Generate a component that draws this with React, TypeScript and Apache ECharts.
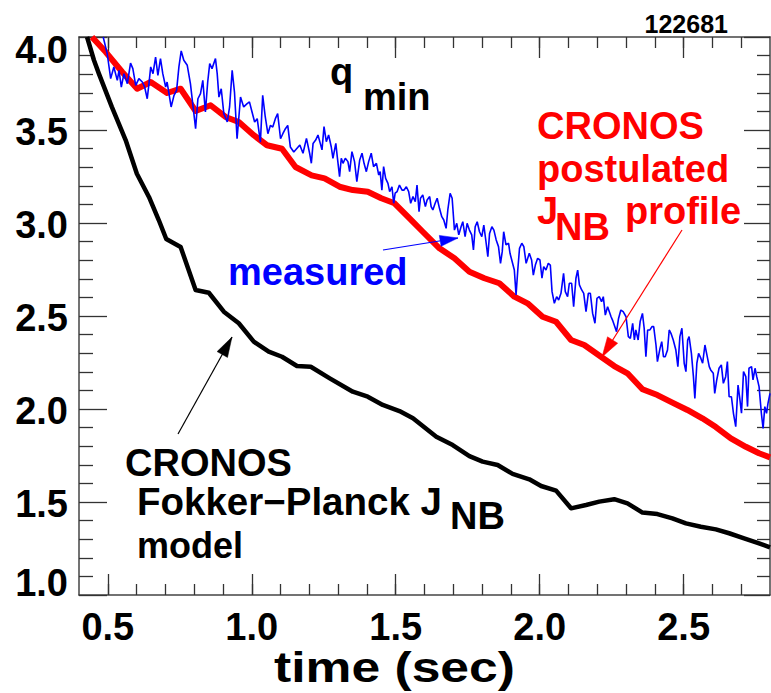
import React, { useEffect, useRef } from "react";
import * as echarts from "echarts";

const FONT = '"Liberation Sans", Arial, Helvetica, sans-serif';

// Axis ticks / labels
const xMajorTicks = [0.5, 1.0, 1.5, 2.0, 2.5];
const xMinorTicks = [
  0.5, 0.6, 0.7, 0.8, 0.9, 1.0, 1.1, 1.2, 1.3, 1.4, 1.5, 1.6, 1.7, 1.8, 1.9,
  2.0, 2.1, 2.2, 2.3, 2.4, 2.5, 2.6, 2.7,
];
const xRange = [0.4, 2.8];
const yRange = [1.0, 4.0];

// CRONOS Fokker-Planck J_NB model (black)
const fokkerPlanck: [number, number][] = [
  [0.428, 4.0], [0.452, 3.875], [0.469, 3.803], [0.514, 3.624], [0.562, 3.446],
  [0.601, 3.265], [0.643, 3.14], [0.677, 3.016], [0.703, 2.914], [0.753, 2.871],
  [0.805, 2.64], [0.851, 2.625], [0.903, 2.523], [0.955, 2.461], [1.007, 2.362],
  [1.059, 2.308], [1.105, 2.281], [1.157, 2.231], [1.205, 2.227], [1.271, 2.165],
  [1.351, 2.093], [1.403, 2.066], [1.455, 2.022], [1.513, 1.989], [1.56, 1.95],
  [1.641, 1.851], [1.698, 1.806], [1.756, 1.747], [1.802, 1.717], [1.854, 1.699],
  [1.906, 1.651], [1.964, 1.622], [2.005, 1.586], [2.057, 1.561], [2.109, 1.466],
  [2.161, 1.484], [2.207, 1.502], [2.259, 1.515], [2.305, 1.493], [2.357, 1.443],
  [2.409, 1.435], [2.461, 1.412], [2.508, 1.385], [2.56, 1.367], [2.612, 1.353],
  [2.658, 1.332], [2.71, 1.305], [2.762, 1.278], [2.8, 1.256],
];

// CRONOS postulated J_NB profile (red)
const postulated: [number, number][] = [
  [0.445, 4.0], [0.493, 3.919], [0.55, 3.812], [0.602, 3.722], [0.649, 3.758],
  [0.706, 3.699], [0.753, 3.722], [0.805, 3.602], [0.857, 3.633], [0.909, 3.57],
  [0.955, 3.543], [1.007, 3.472], [1.053, 3.418], [1.105, 3.399], [1.152, 3.301],
  [1.208, 3.256], [1.253, 3.24], [1.305, 3.195], [1.351, 3.177], [1.403, 3.168],
  [1.45, 3.133], [1.496, 3.106], [1.542, 3.034], [1.594, 2.953], [1.652, 2.864],
  [1.704, 2.81], [1.756, 2.738], [1.808, 2.703], [1.86, 2.676], [1.912, 2.604],
  [1.958, 2.568], [2.01, 2.496], [2.057, 2.469], [2.109, 2.371], [2.155, 2.344],
  [2.213, 2.281], [2.259, 2.231], [2.305, 2.192], [2.357, 2.106], [2.409, 2.075],
  [2.461, 2.034], [2.513, 1.995], [2.565, 1.95], [2.612, 1.903], [2.664, 1.842],
  [2.716, 1.797], [2.762, 1.762], [2.8, 1.74],
];

// measured q_min (blue)
const measured: [number, number][] = [
  [0.484, 4.0], [0.498, 3.91], [0.51, 3.776], [0.521, 3.839], [0.533, 3.767],
  [0.539, 3.821], [0.547, 3.731], [0.556, 3.803], [0.568, 3.749], [0.579, 3.86],
  [0.587, 3.83], [0.597, 3.74], [0.608, 3.776], [0.62, 3.758], [0.628, 3.731],
  [0.637, 3.668], [0.643, 3.749], [0.649, 3.839], [0.657, 3.803], [0.666, 3.892],
  [0.674, 3.794], [0.683, 3.884], [0.691, 3.803], [0.701, 3.731], [0.706, 3.758],
  [0.72, 3.624], [0.73, 3.686], [0.739, 3.713], [0.747, 3.839], [0.755, 3.925],
  [0.764, 3.875], [0.776, 3.848], [0.787, 3.749], [0.795, 3.642], [0.805, 3.507],
  [0.813, 3.668], [0.822, 3.695], [0.83, 3.767], [0.839, 3.597], [0.847, 3.758],
  [0.854, 3.857], [0.862, 3.83], [0.874, 3.884], [0.88, 3.803], [0.886, 3.677],
  [0.894, 3.722], [0.903, 3.588], [0.915, 3.543], [0.923, 3.624], [0.932, 3.821],
  [0.94, 3.704], [0.949, 3.453], [0.961, 3.677], [0.972, 3.624], [0.984, 3.642],
  [0.992, 3.651], [1.001, 3.597], [1.01, 3.543], [1.019, 3.561], [1.03, 3.435],
  [1.038, 3.686], [1.047, 3.57], [1.056, 3.48], [1.065, 3.525], [1.073, 3.516],
  [1.082, 3.561], [1.09, 3.588], [1.1, 3.453], [1.108, 3.48], [1.117, 3.507],
  [1.125, 3.525], [1.134, 3.409], [1.146, 3.382], [1.167, 3.419], [1.178, 3.375],
  [1.19, 3.455], [1.201, 3.375], [1.207, 3.321], [1.213, 3.428], [1.222, 3.446],
  [1.23, 3.473], [1.238, 3.428], [1.244, 3.393], [1.251, 3.518], [1.259, 3.437],
  [1.267, 3.473], [1.276, 3.41], [1.282, 3.348], [1.292, 3.428], [1.297, 3.357],
  [1.305, 3.249], [1.311, 3.348], [1.317, 3.321], [1.325, 3.348], [1.334, 3.33],
  [1.34, 3.276], [1.348, 3.384], [1.357, 3.33], [1.365, 3.222], [1.375, 3.339],
  [1.383, 3.375], [1.39, 3.321], [1.398, 3.276], [1.406, 3.33], [1.415, 3.375],
  [1.423, 3.303], [1.433, 3.321], [1.441, 3.258], [1.446, 3.276], [1.452, 3.177],
  [1.458, 3.303], [1.465, 3.24], [1.473, 3.213], [1.479, 3.169], [1.487, 3.195],
  [1.493, 3.106], [1.498, 3.16], [1.505, 3.169], [1.513, 3.204], [1.522, 3.177],
  [1.529, 3.177], [1.537, 3.195], [1.545, 3.169], [1.552, 3.106], [1.56, 3.142],
  [1.568, 3.115], [1.574, 3.204], [1.581, 3.061], [1.586, 3.133], [1.594, 3.151],
  [1.603, 3.088], [1.609, 3.124], [1.618, 3.142], [1.623, 3.088], [1.629, 3.07],
  [1.637, 3.106], [1.644, 3.133], [1.652, 3.079], [1.66, 3.034], [1.667, 3.016],
  [1.675, 2.971], [1.681, 3.07], [1.689, 3.16], [1.696, 3.133], [1.704, 2.962],
  [1.712, 2.998], [1.719, 2.936], [1.727, 2.98], [1.733, 3.007], [1.741, 2.927],
  [1.748, 2.998], [1.756, 2.962], [1.764, 2.936], [1.77, 2.855], [1.776, 2.98],
  [1.783, 3.007], [1.791, 2.953], [1.799, 2.927], [1.806, 2.989], [1.812, 2.918],
  [1.82, 2.819], [1.826, 2.944], [1.834, 2.98], [1.841, 2.962], [1.849, 2.909],
  [1.857, 2.873], [1.864, 2.783], [1.87, 2.846], [1.875, 2.953], [1.883, 2.882],
  [1.892, 2.891], [1.897, 2.837], [1.903, 2.801], [1.912, 2.747], [1.918, 2.613],
  [1.924, 2.747], [1.93, 2.864], [1.938, 2.891], [1.945, 2.873], [1.953, 2.783],
  [1.964, 2.837], [1.972, 2.801], [1.978, 2.72], [1.985, 2.774], [1.993, 2.81],
  [2.001, 2.801], [2.008, 2.703], [2.014, 2.765], [2.022, 2.747], [2.03, 2.783],
  [2.037, 2.774], [2.043, 2.631], [2.051, 2.568], [2.059, 2.604], [2.066, 2.586],
  [2.074, 2.622], [2.083, 2.729], [2.089, 2.631], [2.097, 2.604], [2.103, 2.676],
  [2.111, 2.676], [2.118, 2.55], [2.126, 2.703], [2.132, 2.747], [2.138, 2.667],
  [2.146, 2.64], [2.153, 2.622], [2.161, 2.523], [2.169, 2.622], [2.176, 2.622],
  [2.184, 2.514], [2.192, 2.461], [2.199, 2.595], [2.207, 2.604], [2.215, 2.577],
  [2.221, 2.604], [2.228, 2.505], [2.236, 2.55], [2.242, 2.523], [2.248, 2.496],
  [2.253, 2.478], [2.259, 2.452], [2.267, 2.416], [2.274, 2.487], [2.282, 2.532],
  [2.29, 2.523], [2.3, 2.496], [2.308, 2.389], [2.315, 2.38], [2.323, 2.461],
  [2.329, 2.371], [2.334, 2.425], [2.342, 2.371], [2.349, 2.47], [2.357, 2.514],
  [2.363, 2.434], [2.369, 2.281], [2.375, 2.425], [2.383, 2.425], [2.39, 2.443],
  [2.396, 2.443], [2.404, 2.344], [2.409, 2.255], [2.418, 2.326], [2.424, 2.362],
  [2.43, 2.281], [2.436, 2.281], [2.444, 2.317], [2.45, 2.425], [2.456, 2.407],
  [2.464, 2.371], [2.473, 2.317], [2.48, 2.228], [2.487, 2.389], [2.494, 2.434],
  [2.502, 2.246], [2.508, 2.201], [2.514, 2.371], [2.519, 2.389], [2.527, 2.299],
  [2.534, 2.174], [2.539, 2.057], [2.546, 2.246], [2.552, 2.299], [2.56, 2.272],
  [2.566, 2.246], [2.574, 2.344], [2.581, 2.29], [2.589, 2.228], [2.594, 2.21],
  [2.603, 2.192], [2.608, 2.084], [2.615, 2.156], [2.623, 2.219], [2.631, 2.237],
  [2.638, 2.138], [2.646, 2.174], [2.652, 2.255], [2.658, 2.066], [2.666, 2.066],
  [2.673, 1.977], [2.681, 1.905], [2.689, 2.129], [2.695, 2.057], [2.701, 1.977],
  [2.708, 2.201], [2.716, 2.174], [2.722, 2.013], [2.727, 2.219], [2.736, 2.228],
  [2.741, 2.156], [2.748, 2.219], [2.754, 2.174], [2.762, 2.12], [2.77, 1.977],
  [2.776, 1.896], [2.782, 2.013], [2.788, 1.977], [2.793, 2.03], [2.8, 2.084],
];

const AXIS_COLOR = "#444";
const TICK_COLOR = "#333";

function txt(text: string, x: number, y: number, fill: string, size = 38, align = "left") {
  return {
    type: "text",
    z: 20,
    style: {
      text,
      x,
      y,
      fill,
      fontFamily: FONT,
      fontWeight: "bold",
      fontSize: size,
      lineHeight: Math.round(size * 0.88),
      align,
      verticalAlign: "middle",
    },
  };
}

function arrow(x1: number, y1: number, x2: number, y2: number, bx1: number, by1: number, bx2: number, by2: number, color: string) {
  return [
    {
      type: "line",
      z: 20,
      shape: { x1, y1, x2, y2 },
      style: { stroke: color, lineWidth: 1.2 },
    },
    {
      type: "polygon",
      z: 20,
      shape: { points: [[x2, y2], [bx1, by1], [bx2, by2]] },
      style: { fill: color, stroke: color, lineWidth: 0.5 },
    },
  ];
}

export default function App() {
  const ref = useRef<HTMLDivElement>(null);
  useEffect(() => {
    if (!ref.current) return;
    const chart = echarts.init(ref.current, undefined, { renderer: "svg" });
    const yLabelFmt = (v: number) => {
      if (Math.abs(v - 4) < 1e-6) return "{top|4.0}";
      if (Math.abs(v - 1) < 1e-6) return "{bot|1.0}";
      return "{n|" + v.toFixed(1) + "}";
    };
    const labelBase = { fontFamily: FONT, fontWeight: "bold", fontSize: 38, color: "#000" };
    const xCommon = {
      type: "value",
      min: xRange[0],
      max: xRange[1],
      gridIndex: 0,
      splitLine: { show: false },
    };
    const option: any = {
      animation: false,
      backgroundColor: "#fff",
      grid: { left: 79, top: 37, right: 1, bottom: 98, containLabel: false, outerBoundsMode: "none" },
      xAxis: [
        {
          ...xCommon,
          position: "bottom",
          axisLine: { show: true, onZero: false, lineStyle: { color: AXIS_COLOR, width: 1.5 } },
          axisTick: { show: true, inside: true, length: 21, customValues: xMajorTicks, lineStyle: { color: TICK_COLOR, width: 1.3 } },
          axisLabel: {
            show: true,
            customValues: xMajorTicks,
            formatter: (v: number) => v.toFixed(1),
            margin: 13,
            ...labelBase,
          },
        },
        {
          ...xCommon,
          position: "bottom",
          axisLine: { show: false, onZero: false },
          axisTick: { show: true, inside: true, length: 11, customValues: xMinorTicks, lineStyle: { color: TICK_COLOR, width: 1.3 } },
          axisLabel: { show: false },
        },
        {
          ...xCommon,
          position: "top",
          axisLine: { show: true, onZero: false, lineStyle: { color: AXIS_COLOR, width: 1.5 } },
          axisTick: { show: true, inside: true, length: 21, customValues: xMajorTicks, lineStyle: { color: TICK_COLOR, width: 1.3 } },
          axisLabel: { show: false },
        },
        {
          ...xCommon,
          position: "top",
          axisLine: { show: false, onZero: false },
          axisTick: { show: true, inside: true, length: 11, customValues: xMinorTicks, lineStyle: { color: TICK_COLOR, width: 1.3 } },
          axisLabel: { show: false },
        },
      ],
      yAxis: [
        {
          type: "value",
          position: "left",
          min: yRange[0],
          max: yRange[1],
          interval: 0.5,
          splitLine: { show: false },
          axisLine: { show: true, onZero: false, lineStyle: { color: AXIS_COLOR, width: 1.5 } },
          axisTick: { show: true, inside: true, length: 28, lineStyle: { color: TICK_COLOR, width: 1.3 } },
          minorTick: { show: true, splitNumber: 5, length: 14, lineStyle: { color: TICK_COLOR, width: 1.3 } },
          axisLabel: {
            show: true,
            margin: 11,
            formatter: yLabelFmt,
            rich: {
              n: { ...labelBase, padding: [3, 0, 0, 0] },
              top: { ...labelBase, padding: [26, 0, 0, 0] },
              bot: { ...labelBase, padding: [0, 0, 25, 0] },
            },
          },
        },
        {
          type: "value",
          position: "right",
          min: yRange[0],
          max: yRange[1],
          interval: 0.5,
          splitLine: { show: false },
          axisLine: { show: true, onZero: false, lineStyle: { color: AXIS_COLOR, width: 1.5 } },
          axisTick: { show: true, inside: true, length: 26, lineStyle: { color: TICK_COLOR, width: 1.3 } },
          minorTick: { show: true, splitNumber: 5, length: 13, lineStyle: { color: TICK_COLOR, width: 1.3 } },
          axisLabel: { show: false },
        },
      ],
      series: [
        {
          name: "CRONOS postulated JNB profile",
          type: "line",
          data: postulated,
          symbol: "none",
          clip: true,
          z: 3,
          lineStyle: { color: "#ff0000", width: 6, join: "round" },
        },
        {
          name: "measured",
          type: "line",
          data: measured,
          symbol: "none",
          clip: true,
          z: 4,
          lineStyle: { color: "#0000ff", width: 1.6 },
        },
        {
          name: "CRONOS Fokker-Planck JNB model",
          type: "line",
          data: fokkerPlanck,
          symbol: "none",
          clip: true,
          z: 5,
          lineStyle: { color: "#000000", width: 4.5, join: "round" },
        },
      ],
      graphic: [
        {
          type: "text",
          z: 20,
          x: 394.5,
          y: 667,
          scaleX: 1.2,
          style: {
            text: "time (sec)",
            x: 0,
            y: 0,
            fill: "#000",
            fontFamily: FONT,
            fontWeight: "bold",
            fontSize: 43,
            lineHeight: 38,
            align: "center",
            verticalAlign: "middle",
          },
        },
        txt("122681", 728, 24, "#000", 25, "right"),
        txt("q", 330, 72, "#000"),
        txt("min", 363, 97, "#000"),
        txt("CRONOS", 537, 126, "#ff0000"),
        txt("postulated", 537, 169, "#ff0000"),
        txt("J", 537, 211, "#ff0000"),
        txt("NB", 555, 227, "#ff0000"),
        txt("profile", 625, 211, "#ff0000"),
        txt("measured", 228, 272, "#0000ff"),
        txt("CRONOS", 125, 463, "#000"),
        txt("Fokker\u2212Planck J", 137, 501, "#000", 38.5),
        txt("NB", 450, 516, "#000"),
        txt("model", 137, 545, "#000", 36),
        ...arrow(383, 250, 458, 238, 441.1, 246.3, 439.3, 235.4, "#0000ff"),
        ...arrow(682, 230, 602, 357, 617.7, 343.2, 607.5, 336.8, "#ff0000"),
        ...arrow(178, 434, 232, 337, 227.5, 357.4, 217.1, 351.6, "#000"),
      ],
    };
    chart.setOption(option);
    return () => chart.dispose();
  }, []);
  return (
    <div
      ref={ref}
      style={{ position: "fixed", left: 0, top: 0, width: 771, height: 693, background: "#fff" }}
    />
  );
}
